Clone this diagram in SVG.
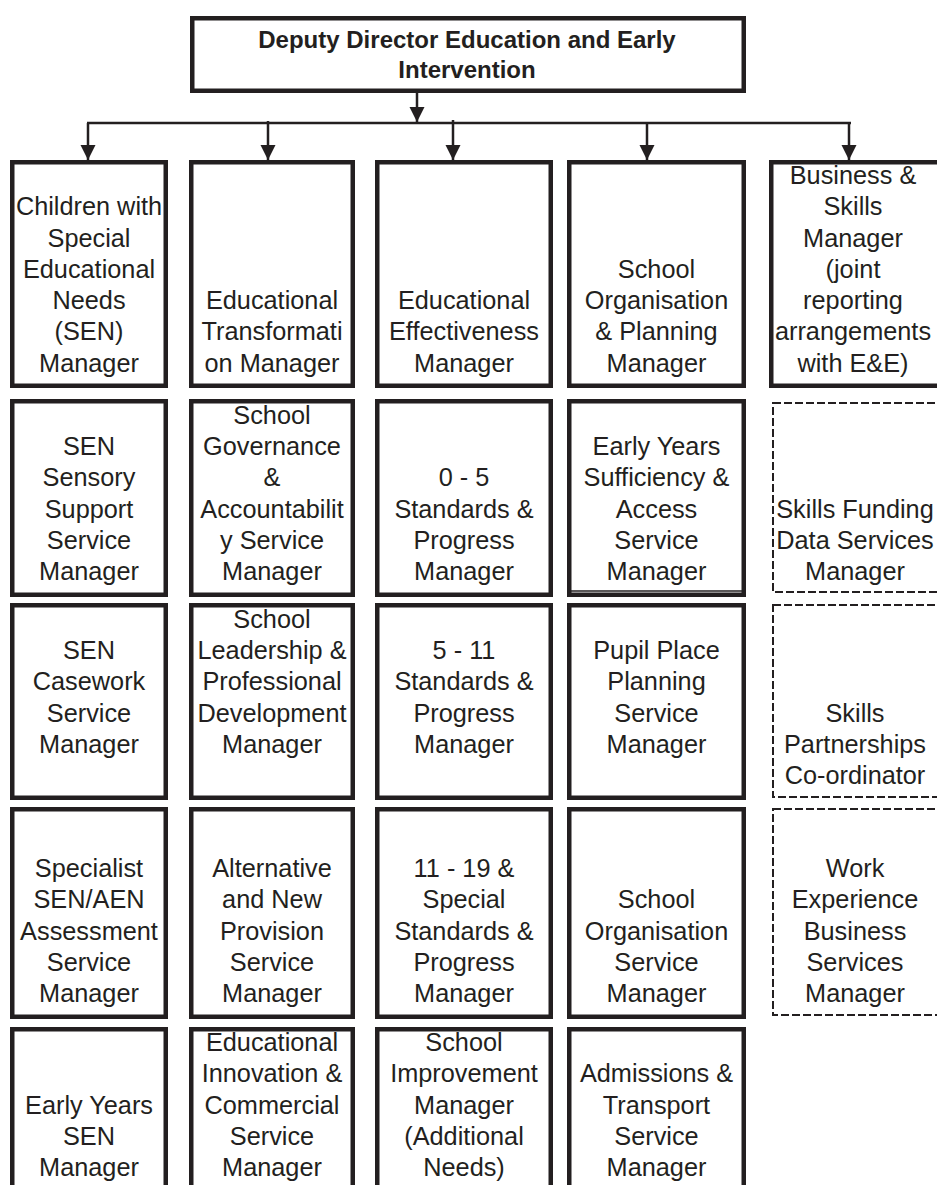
<svg xmlns="http://www.w3.org/2000/svg" width="937" height="1185" viewBox="0 0 937 1185">
<style>
  .box { fill: #ffffff; stroke: #231f20; stroke-width: 4.5; }
  .dash { fill: #ffffff; stroke: #231f20; stroke-width: 2; stroke-dasharray: 8 3; }
  .t { font-family: "Liberation Sans", Arial, sans-serif; font-size: 25.3px; fill: #231f20; text-anchor: middle; }
  .title { font-family: "Liberation Sans", Arial, sans-serif; font-size: 24px; font-weight: bold; fill: #231f20; text-anchor: middle; }
  .conn { fill: none; stroke: #231f20; stroke-width: 2.5; }
</style>
<defs>
  <marker id="arrow" markerUnits="userSpaceOnUse" markerWidth="16" markerHeight="16" refX="15" refY="7.5" orient="auto">
    <path d="M0,0 L15,7.5 L0,15 z" fill="#231f20"/>
  </marker>
</defs>
<rect width="937" height="1185" fill="#ffffff"/>

<g id="connectors">
  <path class="conn" d="M417,93 V122" marker-end="url(#arrow)"/>
  <path class="conn" d="M87,123 H851"/>
  <path class="conn" d="M88,123 V160" marker-end="url(#arrow)"/>
  <path class="conn" d="M268,121 V160" marker-end="url(#arrow)"/>
  <path class="conn" d="M453,120 V160" marker-end="url(#arrow)"/>
  <path class="conn" d="M647,122 V160" marker-end="url(#arrow)"/>
  <path class="conn" d="M849,122 V160" marker-end="url(#arrow)"/>
</g>

<g id="deputy-director">
  <rect class="box" x="192.25" y="18.25" width="551.5" height="72.5"/>
  <text class="title" x="467" y="48">Deputy Director Education and Early</text>
  <text class="title" x="467" y="78">Intervention</text>
</g>

<!-- Row 1 -->
<g id="sen-manager">
  <rect class="box" x="12.25" y="162.25" width="153.5" height="223.5"/>
  <text class="t" y="215.25"><tspan x="89">Children with</tspan><tspan x="89" dy="31.25">Special</tspan><tspan x="89" dy="31.25">Educational</tspan><tspan x="89" dy="31.25">Needs</tspan><tspan x="89" dy="31.25">(SEN)</tspan><tspan x="89" dy="31.25">Manager</tspan></text>
</g>
<g id="edu-transformation-manager">
  <rect class="box" x="191.25" y="162.25" width="161.5" height="223.5"/>
  <text class="t" y="309"><tspan x="272">Educational</tspan><tspan x="272" dy="31.25">Transformati</tspan><tspan x="272" dy="31.25">on Manager</tspan></text>
</g>
<g id="edu-effectiveness-manager">
  <rect class="box" x="377.25" y="162.25" width="173.5" height="223.5"/>
  <text class="t" y="309"><tspan x="464">Educational</tspan><tspan x="464" dy="31.25">Effectiveness</tspan><tspan x="464" dy="31.25">Manager</tspan></text>
</g>
<g id="school-org-planning-manager">
  <rect class="box" x="569.25" y="162.25" width="174.5" height="223.5"/>
  <text class="t" y="277.75"><tspan x="656.5">School</tspan><tspan x="656.5" dy="31.25">Organisation</tspan><tspan x="656.5" dy="31.25">&amp; Planning</tspan><tspan x="656.5" dy="31.25">Manager</tspan></text>
</g>
<g id="business-skills-manager">
  <rect class="box" x="771.25" y="162.25" width="171.5" height="223.5"/>
  <text class="t" y="184"><tspan x="853">Business &amp;</tspan><tspan x="853" dy="31.25">Skills</tspan><tspan x="853" dy="31.25">Manager</tspan><tspan x="853" dy="31.25">(joint</tspan><tspan x="853" dy="31.25">reporting</tspan><tspan x="853" dy="31.25">arrangements</tspan><tspan x="853" dy="31.25">with E&amp;E)</tspan></text>
</g>

<!-- Row 2 -->
<g id="sen-sensory">
  <rect class="box" x="12.25" y="401.25" width="153.5" height="193.5"/>
  <text class="t" y="455"><tspan x="89">SEN</tspan><tspan x="89" dy="31.25">Sensory</tspan><tspan x="89" dy="31.25">Support</tspan><tspan x="89" dy="31.25">Service</tspan><tspan x="89" dy="31.25">Manager</tspan></text>
</g>
<g id="school-governance">
  <rect class="box" x="191.25" y="401.25" width="161.5" height="193.5"/>
  <text class="t" y="423.75"><tspan x="272">School</tspan><tspan x="272" dy="31.25">Governance</tspan><tspan x="272" dy="31.25">&amp;</tspan><tspan x="272" dy="31.25">Accountabilit</tspan><tspan x="272" dy="31.25">y Service</tspan><tspan x="272" dy="31.25">Manager</tspan></text>
</g>
<g id="standards-0-5">
  <rect class="box" x="377.25" y="401.25" width="173.5" height="193.5"/>
  <text class="t" y="486.25"><tspan x="464">0 - 5</tspan><tspan x="464" dy="31.25">Standards &amp;</tspan><tspan x="464" dy="31.25">Progress</tspan><tspan x="464" dy="31.25">Manager</tspan></text>
</g>
<g id="early-years-sufficiency">
  <rect class="box" x="569.25" y="401.25" width="174.5" height="193.5"/>
  <line x1="571" y1="591" x2="745" y2="591" stroke="#231f20" stroke-width="1.5"/>
  <text class="t" y="455"><tspan x="656.5">Early Years</tspan><tspan x="656.5" dy="31.25">Sufficiency &amp;</tspan><tspan x="656.5" dy="31.25">Access</tspan><tspan x="656.5" dy="31.25">Service</tspan><tspan x="656.5" dy="31.25">Manager</tspan></text>
</g>
<g id="skills-funding">
  <rect class="dash" x="773" y="403" width="180" height="189"/>
  <text class="t" y="517.5"><tspan x="855">Skills Funding</tspan><tspan x="855" dy="31.25">Data Services</tspan><tspan x="855" dy="31.25">Manager</tspan></text>
</g>

<!-- Row 3 -->
<g id="sen-casework">
  <rect class="box" x="12.25" y="605.25" width="153.5" height="192.5"/>
  <text class="t" y="659"><tspan x="89">SEN</tspan><tspan x="89" dy="31.25">Casework</tspan><tspan x="89" dy="31.25">Service</tspan><tspan x="89" dy="31.25">Manager</tspan></text>
</g>
<g id="school-leadership">
  <rect class="box" x="191.25" y="605.25" width="161.5" height="192.5"/>
  <text class="t" y="627.75"><tspan x="272">School</tspan><tspan x="272" dy="31.25">Leadership &amp;</tspan><tspan x="272" dy="31.25">Professional</tspan><tspan x="272" dy="31.25">Development</tspan><tspan x="272" dy="31.25">Manager</tspan></text>
</g>
<g id="standards-5-11">
  <rect class="box" x="377.25" y="605.25" width="173.5" height="192.5"/>
  <text class="t" y="659"><tspan x="464">5 - 11</tspan><tspan x="464" dy="31.25">Standards &amp;</tspan><tspan x="464" dy="31.25">Progress</tspan><tspan x="464" dy="31.25">Manager</tspan></text>
</g>
<g id="pupil-place-planning">
  <rect class="box" x="569.25" y="605.25" width="174.5" height="192.5"/>
  <text class="t" y="659"><tspan x="656.5">Pupil Place</tspan><tspan x="656.5" dy="31.25">Planning</tspan><tspan x="656.5" dy="31.25">Service</tspan><tspan x="656.5" dy="31.25">Manager</tspan></text>
</g>
<g id="skills-partnerships">
  <rect class="dash" x="773" y="605" width="180" height="192"/>
  <text class="t" y="721.5"><tspan x="855">Skills</tspan><tspan x="855" dy="31.25">Partnerships</tspan><tspan x="855" dy="31.25">Co-ordinator</tspan></text>
</g>

<!-- Row 4 -->
<g id="specialist-assessment">
  <rect class="box" x="12.25" y="809.25" width="153.5" height="207.5"/>
  <text class="t" y="877"><tspan x="89">Specialist</tspan><tspan x="89" dy="31.25">SEN/AEN</tspan><tspan x="89" dy="31.25">Assessment</tspan><tspan x="89" dy="31.25">Service</tspan><tspan x="89" dy="31.25">Manager</tspan></text>
</g>
<g id="alternative-provision">
  <rect class="box" x="191.25" y="809.25" width="161.5" height="207.5"/>
  <text class="t" y="877"><tspan x="272">Alternative</tspan><tspan x="272" dy="31.25">and New</tspan><tspan x="272" dy="31.25">Provision</tspan><tspan x="272" dy="31.25">Service</tspan><tspan x="272" dy="31.25">Manager</tspan></text>
</g>
<g id="standards-11-19">
  <rect class="box" x="377.25" y="809.25" width="173.5" height="207.5"/>
  <text class="t" y="877"><tspan x="464">11 - 19 &amp;</tspan><tspan x="464" dy="31.25">Special</tspan><tspan x="464" dy="31.25">Standards &amp;</tspan><tspan x="464" dy="31.25">Progress</tspan><tspan x="464" dy="31.25">Manager</tspan></text>
</g>
<g id="school-organisation-service">
  <rect class="box" x="569.25" y="809.25" width="174.5" height="207.5"/>
  <text class="t" y="908.25"><tspan x="656.5">School</tspan><tspan x="656.5" dy="31.25">Organisation</tspan><tspan x="656.5" dy="31.25">Service</tspan><tspan x="656.5" dy="31.25">Manager</tspan></text>
</g>
<g id="work-experience">
  <rect class="dash" x="773" y="809" width="180" height="206"/>
  <text class="t" y="877"><tspan x="855">Work</tspan><tspan x="855" dy="31.25">Experience</tspan><tspan x="855" dy="31.25">Business</tspan><tspan x="855" dy="31.25">Services</tspan><tspan x="855" dy="31.25">Manager</tspan></text>
</g>

<!-- Row 5 -->
<g id="early-years-sen">
  <rect class="box" x="12.25" y="1029.25" width="153.5" height="180"/>
  <text class="t" y="1113.5"><tspan x="89">Early Years</tspan><tspan x="89" dy="31.25">SEN</tspan><tspan x="89" dy="31.25">Manager</tspan></text>
</g>
<g id="edu-innovation">
  <rect class="box" x="191.25" y="1029.25" width="161.5" height="180"/>
  <text class="t" y="1051"><tspan x="272">Educational</tspan><tspan x="272" dy="31.25">Innovation &amp;</tspan><tspan x="272" dy="31.25">Commercial</tspan><tspan x="272" dy="31.25">Service</tspan><tspan x="272" dy="31.25">Manager</tspan></text>
</g>
<g id="school-improvement">
  <rect class="box" x="377.25" y="1029.25" width="173.5" height="180"/>
  <text class="t" y="1051"><tspan x="464">School</tspan><tspan x="464" dy="31.25">Improvement</tspan><tspan x="464" dy="31.25">Manager</tspan><tspan x="464" dy="31.25">(Additional</tspan><tspan x="464" dy="31.25">Needs)</tspan></text>
</g>
<g id="admissions-transport">
  <rect class="box" x="569.25" y="1029.25" width="174.5" height="180"/>
  <text class="t" y="1082.25"><tspan x="656.5">Admissions &amp;</tspan><tspan x="656.5" dy="31.25">Transport</tspan><tspan x="656.5" dy="31.25">Service</tspan><tspan x="656.5" dy="31.25">Manager</tspan></text>
</g>
</svg>
